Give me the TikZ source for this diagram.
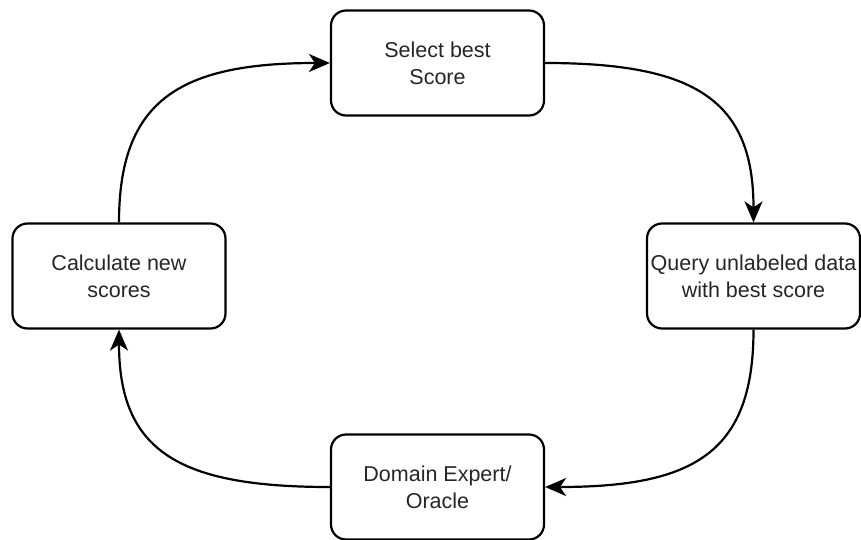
\documentclass[tikz,border=0pt]{standalone}
\usepackage{fontspec}
\setmainfont{Liberation Sans}
\usetikzlibrary{arrows.meta}
\begin{document}
\begin{tikzpicture}[x=1pt,y=-1pt,
  stepbox/.style={draw=black, line width=2.2pt, rounded corners=15pt, fill=white,
    minimum width=213pt, minimum height=105pt, inner sep=0pt, align=center,
    text=black!85, font=\fontsize{21.5}{27}\selectfont},
  flow/.style={draw=black, line width=2.2pt, -{Stealth[length=21pt,width=18pt,inset=6pt]}}]
  \useasboundingbox (0,0) rectangle (861,540);

  % process steps
  \node[stepbox] (sel) at (437.5,63) {Select best\\Score};
  \node[stepbox] (qry) at (753.5,276) {Query unlabeled data\\with best score};
  \node[stepbox] (ora) at (437.5,487) {Domain Expert/\\Oracle};
  \node[stepbox] (calc) at (119,276) {Calculate new\\scores};

  % cycle connectors
  \draw[flow] (calc.north) .. controls (119,100) and (180,63) .. (sel.west);
  \draw[flow] (sel.east) .. controls (695,63) and (753.5,100) .. (qry.north);
  \draw[flow] (qry.south) .. controls (753.5,452) and (695,487) .. (ora.east);
  \draw[flow] (ora.west) .. controls (180,487) and (119,452) .. (calc.south);
\end{tikzpicture}
\end{document}
